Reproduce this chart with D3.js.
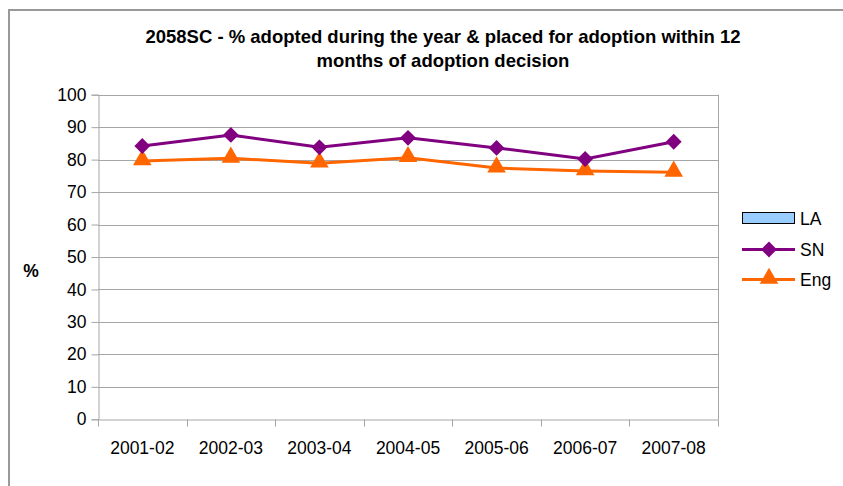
<!DOCTYPE html>
<html>
<head>
<meta charset="utf-8">
<script src="https://cdn.jsdelivr.net/npm/d3@7"></script>
<style>
  html, body { margin: 0; padding: 0; background: #fff; }
  svg { display: block; font-family: "Liberation Sans", Arial, sans-serif; }
</style>
</head>
<body>
<svg id="chart" width="843" height="486"></svg>
<script>
const categories = ["2001-02", "2002-03", "2003-04", "2004-05", "2005-06", "2006-07", "2007-08"];
const laValues = [null, null, null, null, null, null, null];
const snValues = [84.2, 87.6, 83.8, 86.7, 83.6, 80.2, 85.5];
const engValues = [79.6, 80.4, 78.9, 80.6, 77.4, 76.5, 76.1];
const yTicks = [0, 10, 20, 30, 40, 50, 60, 70, 80, 90, 100];
const titleLines = ["2058SC - % adopted during the year & placed for adoption within 12", "months of adoption decision"];

const svg = d3.select("#chart");
const FS = 17.5;

// outer chart border
svg.append("rect")
  .attr("x", 9).attr("y", 10).attr("width", 850).attr("height", 500)
  .attr("fill", "none").attr("stroke", "#999").attr("stroke-width", 2);

const plot = { left: 98, top: 94.7, right: 718, bottom: 419.3 };

const x = d3.scaleBand().domain(categories).range([plot.left, plot.right]);
const y = d3.scaleLinear().domain([0, 100]).range([plot.bottom, plot.top]);

// gridlines
svg.append("g")
  .selectAll("line")
  .data(yTicks.filter(t => t > 0))
  .join("line")
  .attr("x1", plot.left).attr("x2", plot.right)
  .attr("y1", d => Math.round(y(d)) + 0.5).attr("y2", d => Math.round(y(d)) + 0.5)
  .attr("stroke", "#a6a6a6").attr("stroke-width", 1);

// right border of plot area
svg.append("line")
  .attr("x1", plot.right + 0.5).attr("x2", plot.right + 0.5)
  .attr("y1", plot.top).attr("y2", plot.bottom)
  .attr("stroke", "#a6a6a6");

// y axis
const yAxis = d3.axisLeft(y).tickValues(yTicks).tickSize(7).tickPadding(5);
const gy = svg.append("g")
  .attr("transform", `translate(${plot.left + 0.5},0)`)
  .call(yAxis);
gy.select(".domain").attr("stroke", "#a6a6a6");
gy.selectAll(".tick line").attr("stroke", "#a6a6a6");
gy.selectAll(".tick text").attr("font-size", FS).attr("fill", "#000")
  .attr("font-family", "Liberation Sans, Arial, sans-serif");

// x axis
const xAxis = d3.axisBottom(x).tickSize(0).tickPadding(22);
const gx = svg.append("g")
  .attr("transform", `translate(0,${Math.round(plot.bottom) + 0.5})`)
  .call(xAxis);
gx.select(".domain").attr("stroke", "#a6a6a6");
gx.selectAll(".tick text").attr("font-size", FS).attr("fill", "#000")
  .attr("font-family", "Liberation Sans, Arial, sans-serif");
// tick marks at band boundaries
const boundaries = categories.map(c => x(c)).concat([x(categories[categories.length - 1]) + x.bandwidth()]);
gx.selectAll(".bnd")
  .data(boundaries)
  .join("line")
  .attr("class", "bnd")
  .attr("x1", d => Math.round(d) + 0.5).attr("x2", d => Math.round(d) + 0.5)
  .attr("y1", 0).attr("y2", 7)
  .attr("stroke", "#a6a6a6");

const cx = c => x(c) + x.bandwidth() / 2;

// lines
const line = d3.line().x(d => cx(d.c)).y(d => y(d.v));
const snData = categories.map((c, i) => ({ c, v: snValues[i] }));
const engData = categories.map((c, i) => ({ c, v: engValues[i] }));

svg.append("path").datum(engData).attr("d", line)
  .attr("fill", "none").attr("stroke", "#FF6600").attr("stroke-width", 3);
svg.append("path").datum(snData).attr("d", line)
  .attr("fill", "none").attr("stroke", "#800080").attr("stroke-width", 3);

const diamond = d3.symbol().type(d3.symbolSquare).size(125);
const triangle = d3.symbol().type(d3.symbolTriangle).size(150);

svg.append("g").selectAll("path")
  .data(engData).join("path")
  .attr("d", triangle)
  .attr("transform", d => `translate(${cx(d.c)},${y(d.v) - 1})`)
  .attr("fill", "#FF6600");

svg.append("g").selectAll("path")
  .data(snData).join("path")
  .attr("d", diamond)
  .attr("transform", d => `translate(${cx(d.c)},${y(d.v)}) rotate(45)`)
  .attr("fill", "#800080");

// title
svg.append("text")
  .attr("x", 443).attr("y", 43)
  .attr("text-anchor", "middle")
  .attr("font-weight", "bold").attr("font-size", 18.5)
  .selectAll("tspan")
  .data(titleLines).join("tspan")
  .attr("x", 443).attr("dy", (d, i) => i === 0 ? 0 : 24)
  .text(d => d);

// y axis title
svg.append("text")
  .attr("x", 31).attr("y", 277)
  .attr("text-anchor", "middle")
  .attr("font-weight", "bold").attr("font-size", FS)
  .text("%");

// legend
const lg = svg.append("g");
lg.append("rect")
  .attr("x", 742.5).attr("y", 212.5).attr("width", 52).attr("height", 11)
  .attr("fill", "#99CCFF").attr("stroke", "#000").attr("stroke-width", 1);
lg.append("text").attr("x", 800).attr("y", 225).attr("font-size", FS).text("LA");

lg.append("line").attr("x1", 742).attr("x2", 795).attr("y1", 249.5).attr("y2", 249.5)
  .attr("stroke", "#800080").attr("stroke-width", 3);
lg.append("path").attr("d", diamond).attr("transform", "translate(769,249.5) rotate(45)").attr("fill", "#800080");
lg.append("text").attr("x", 800).attr("y", 256).attr("font-size", FS).text("SN");

lg.append("line").attr("x1", 742).attr("x2", 795).attr("y1", 279.5).attr("y2", 279.5)
  .attr("stroke", "#FF6600").attr("stroke-width", 3);
lg.append("path").attr("d", triangle).attr("transform", "translate(769,278.5)").attr("fill", "#FF6600");
lg.append("text").attr("x", 800).attr("y", 286).attr("font-size", FS).text("Eng");
</script>
</body>
</html>
